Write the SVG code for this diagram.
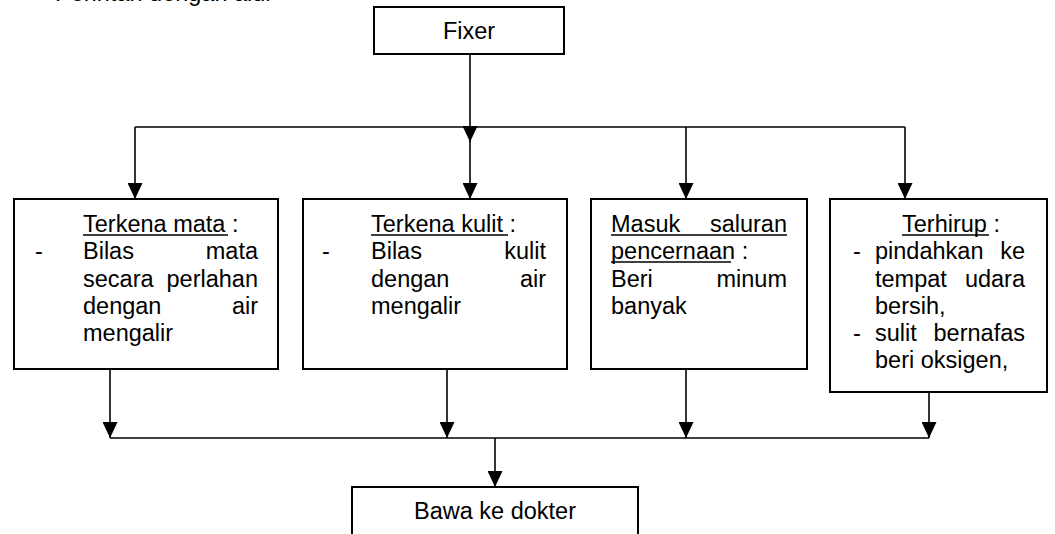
<svg xmlns="http://www.w3.org/2000/svg" width="1055" height="534" viewBox="0 0 1055 534">
<style>
text{font-family:"Liberation Sans",Arial,sans-serif;font-size:23.5px;fill:#000}
.box{fill:#fff;stroke:#000;stroke-width:2}
.c{fill:none;stroke:#000;stroke-width:1.6}
.ul{stroke:#000;stroke-width:1.6}
.e{text-anchor:end}
.m{text-anchor:middle}
</style>
<defs>
<marker id="ah" markerUnits="userSpaceOnUse" markerWidth="16" markerHeight="15" viewBox="0 0 16 15" refX="16" refY="7.5" orient="auto">
<path d="M0,0 L16,7.5 L0,15 z" fill="#000"/>
</marker>
</defs>
<rect width="1055" height="534" fill="#fff"/>
<text x="55" y="1">Perintah dengan alur</text>

<g id="connectors">
<path class="c" d="M470,54 V142" marker-end="url(#ah)"/>
<path class="c" d="M470,127 V199" marker-end="url(#ah)"/>
<path class="c" d="M135,127 H905"/>
<path class="c" d="M135,127 V199" marker-end="url(#ah)"/>
<path class="c" d="M686,127 V199" marker-end="url(#ah)"/>
<path class="c" d="M905,127 V199" marker-end="url(#ah)"/>
<path class="c" d="M110,369 V438" marker-end="url(#ah)"/>
<path class="c" d="M447,369 V438" marker-end="url(#ah)"/>
<path class="c" d="M686,369 V438" marker-end="url(#ah)"/>
<path class="c" d="M929,392 V438" marker-end="url(#ah)"/>
<path class="c" d="M110,438 H929"/>
<path class="c" d="M495,438 V487" marker-end="url(#ah)"/>
</g>

<g id="fixer">
<rect class="box" x="374" y="7" width="190" height="47"/>
<text class="m" x="469" y="39">Fixer</text>
</g>

<g id="mata">
<rect class="box" x="14" y="199" width="264" height="170"/>
<text x="83" y="232">Terkena mata :</text>
<line class="ul" x1="83" y1="235" x2="228" y2="235"/>
<text x="35" y="259">-</text>
<text x="83" y="259">Bilas</text>
<text class="e" x="258" y="259">mata</text>
<text x="83" y="287">secara</text>
<text class="e" x="258" y="287">perlahan</text>
<text x="83" y="314">dengan</text>
<text class="e" x="258" y="314">air</text>
<text x="83" y="341">mengalir</text>
</g>

<g id="kulit">
<rect class="box" x="303" y="199" width="264" height="170"/>
<text x="371" y="232">Terkena kulit :</text>
<line class="ul" x1="371" y1="235" x2="508" y2="235"/>
<text x="322" y="259">-</text>
<text x="371" y="259">Bilas</text>
<text class="e" x="546" y="259">kulit</text>
<text x="371" y="287">dengan</text>
<text class="e" x="546" y="287">air</text>
<text x="371" y="314">mengalir</text>
</g>

<g id="cerna">
<rect class="box" x="591" y="199" width="216" height="170"/>
<text x="611" y="232">Masuk</text>
<text class="e" x="787" y="232">saluran</text>
<line class="ul" x1="611" y1="235" x2="787" y2="235"/>
<text x="611" y="259">pencernaan :</text>
<line class="ul" x1="611" y1="262" x2="731" y2="262"/>
<text x="611" y="287">Beri</text>
<text class="e" x="787" y="287">minum</text>
<text x="611" y="314">banyak</text>
</g>

<g id="hirup">
<rect class="box" x="830" y="199" width="217" height="193"/>
<text x="902" y="232">Terhirup :</text>
<line class="ul" x1="902" y1="235" x2="989" y2="235"/>
<text x="853" y="259">-</text>
<text x="875" y="259">pindahkan</text>
<text class="e" x="1025" y="259">ke</text>
<text x="875" y="287">tempat</text>
<text class="e" x="1025" y="287">udara</text>
<text x="875" y="314">bersih,</text>
<text x="853" y="341">-</text>
<text x="875" y="341">sulit</text>
<text class="e" x="1025" y="341">bernafas</text>
<text x="875" y="368">beri oksigen,</text>
</g>

<g id="dokter">
<rect class="box" x="352" y="487" width="286" height="60"/>
<text class="m" x="495" y="519">Bawa ke dokter</text>
</g>
</svg>
